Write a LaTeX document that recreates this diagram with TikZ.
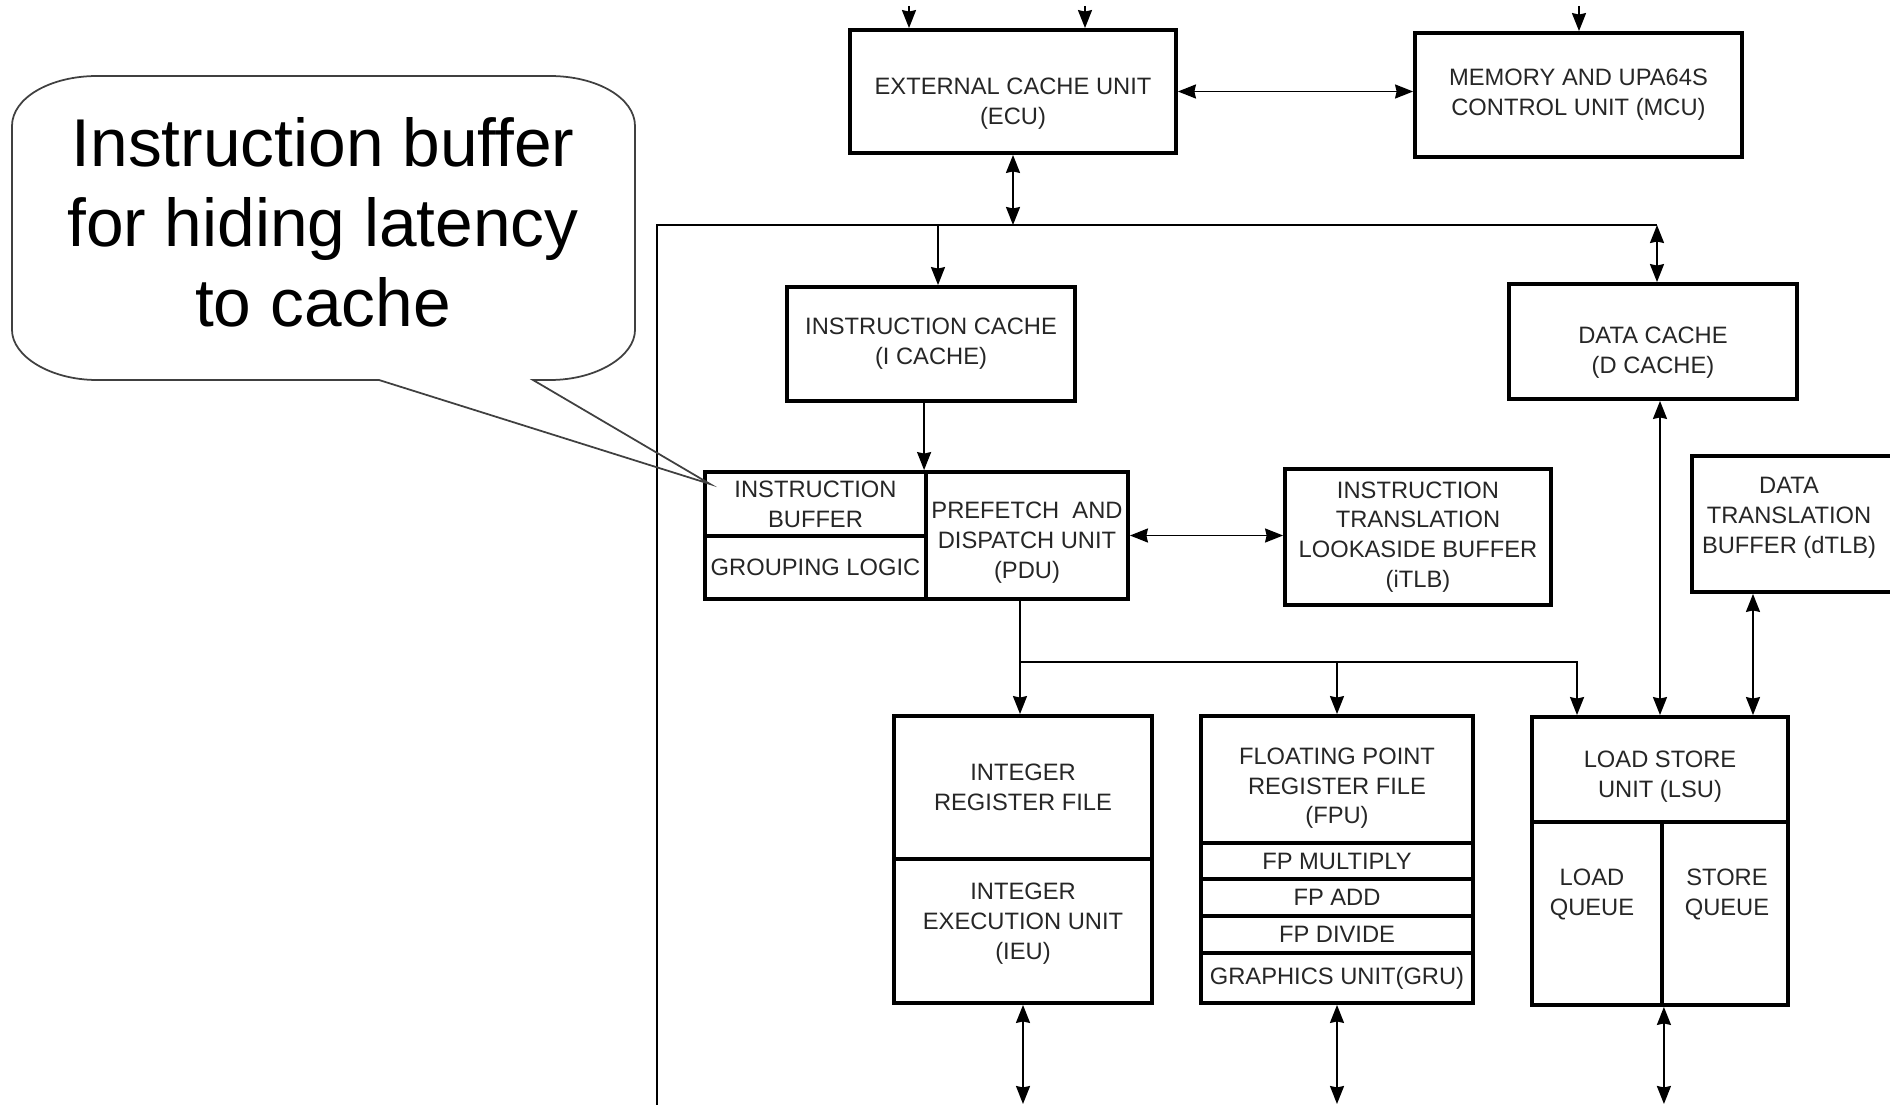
\documentclass[tikz,border=0pt]{standalone}
\usepackage{fontspec}
\setmainfont{Liberation Sans}
\usetikzlibrary{arrows.meta}

% extra room above the first line / below the last line of a box text
\newcommand\topgap[1]{\rule{0pt}{\dimexpr9.7pt+#1\relax}}
\newcommand\botgap[1]{\rule[-\dimexpr2.8pt+#1\relax]{0pt}{0pt}}

\tikzset{
  unit/.style={draw, line width=2.2pt, align=center, inner sep=0pt, text=black!85},
  tip/.tip={Stealth[length=3.6mm, width=2.8mm, inset=0.3mm]},
  link/.style={line width=1.1pt, -tip},
  link2/.style={line width=1.1pt, tip-tip},
  bus/.style={line width=1.1pt},
}

\begin{document}
\begin{tikzpicture}[x=0.02cm, y=-0.02cm, font=\fontsize{13.5}{17}\selectfont]
\useasboundingbox (0,0) rectangle (1890,1105);

% memory side
\node[unit, minimum width=6.52cm, minimum height=2.46cm] (ecu) at (1013,91.5) {\topgap{13.7pt}EXTERNAL CACHE UNIT\\(ECU)};
\node[unit, minimum width=6.54cm, minimum height=2.48cm] (mcu) at (1578.5,95) {MEMORY AND UPA64S\\CONTROL UNIT (MCU)};

% front end
\node[unit, minimum width=5.76cm, minimum height=2.28cm] (icache) at (931,344) {INSTRUCTION CACHE\\(I CACHE)};
\node[unit, minimum width=4.42cm, minimum height=1.28cm] (ib) at (815.5,504) {INSTRUCTION\\BUFFER};
\node[unit, minimum width=4.42cm, minimum height=1.26cm] (gl) at (815.5,567.5) {GROUPING LOGIC};
\node[unit, minimum width=4.04cm, minimum height=2.54cm] (pdu) at (1027,535.5) {\topgap{8.2pt}PREFETCH\ \ AND\\DISPATCH UNIT\\(PDU)};
\node[unit, minimum width=5.32cm, minimum height=2.72cm] (itlb) at (1418,537) {INSTRUCTION\\TRANSLATION\\LOOKASIDE BUFFER\\(iTLB)};

% data side
\node[unit, minimum width=5.76cm, minimum height=2.30cm] (dcache) at (1653,341.5) {\topgap{12.4pt}DATA CACHE\\(D CACHE)};
\node[unit, minimum width=5.16cm, minimum height=2.72cm] (dtlb) at (1821,524) {};
\node[align=center, inner sep=0pt, text=black!85] (dtlbtext) at (1789,518) {DATA\\TRANSLATION\\BUFFER (dTLB)};

% execution units
\node[unit, minimum width=5.16cm, minimum height=2.86cm] (irf) at (1023,787.5) {INTEGER\\REGISTER FILE};
\node[unit, minimum width=5.16cm, minimum height=2.88cm] (ieu) at (1023,931) {INTEGER\\EXECUTION UNIT\\(IEU)\botgap{8.2pt}};
\node[unit, minimum width=5.44cm, minimum height=2.54cm] (fpu) at (1337,779.5) {\topgap{9.6pt}FLOATING POINT\\REGISTER FILE\\(FPU)};
\node[unit, minimum width=5.44cm, minimum height=0.72cm] (fpmul) at (1337,861) {FP MULTIPLY};
\node[unit, minimum width=5.44cm, minimum height=0.74cm] (fpadd) at (1337,897.5) {FP ADD};
\node[unit, minimum width=5.44cm, minimum height=0.74cm] (fpdiv) at (1337,934.5) {FP DIVIDE};
\node[unit, minimum width=5.44cm, minimum height=1.00cm] (gru) at (1337,978) {GRAPHICS UNIT(GRU)};
\node[unit, minimum width=5.12cm, minimum height=2.10cm] (lsu) at (1660,769.5) {\topgap{8.2pt}LOAD STORE\\UNIT (LSU)};
\node[unit, minimum width=2.60cm, minimum height=3.66cm,
  label={[anchor=north, yshift=-0.98cm, xshift=-0.1cm, align=center, inner sep=0pt, text=black!85]north:LOAD\\QUEUE}] (lq) at (1597,913.5) {};
\node[unit, minimum width=2.52cm, minimum height=3.66cm,
  label={[anchor=north, yshift=-0.98cm, xshift=0.04cm, align=center, inner sep=0pt, text=black!85]north:STORE\\QUEUE}] (sq) at (1725,913.5) {};

% free ends
\coordinate (ecuin1) at (909,6);
\coordinate (ecuin2) at (1085,6);
\coordinate (mcuin) at (1579,6);
\coordinate (busl) at (657,1110);
\coordinate (busr) at (1657,225);
\coordinate (fork) at (1020,662);
\coordinate (bot) at (0,1104);

% connectors
\draw[link] (ecuin1) -- (ecuin1 |- ecu.north);
\draw[link] (ecuin2) -- (ecuin2 |- ecu.north);
\draw[link] (mcuin) -- (mcuin |- mcu.north);
\draw[link2] (ecu.east) -- (ecu.east -| mcu.west);
\draw[bus] (busl) |- (busr);
\draw[link2] (ecu.south) -- (ecu.south |- busr);
\draw[link2] (busr) -- (busr |- dcache.north);
\draw[link] ([xshift=0.14cm]icache.north |- busr) -- ([xshift=0.14cm]icache.north);
\draw[link] (icache.south -| pdu.north west) -- (pdu.north west);
\draw[link2] (pdu.east) -- (pdu.east -| itlb.west);
\draw[link] (pdu.south -| fork) -- (irf.north -| fork);
\draw[link] (fork) -| (fpu.north);
\draw[link] (fork) -| ([xshift=-1.66cm]lsu.north);
\draw[link2] (dcache.south -| lsu.north) -- (lsu.north);
\draw[link2] ([xshift=1.86cm]lsu.north |- dtlb.south) -- ([xshift=1.86cm]lsu.north);
\draw[link2] (ieu.south) -- (ieu.south |- bot);
\draw[link2] (gru.south) -- (gru.south |- bot);
\draw[link2] (lq.south east) -- (lq.south east |- bot);

% callout
\draw[line width=1pt, draw=black!75]
  (12,126) .. controls (12,98) and (50,76) .. (97,76) -- (550,76)
  .. controls (597,76) and (635,98) .. (635,126) -- (635,330)
  .. controls (635,356) and (597,380) .. (550,380) -- (533,380)
  -- (710,484) -- (379,380) -- (97,380)
  .. controls (50,380) and (12,356) .. (12,330) -- cycle;
\node[align=center, inner sep=0pt, font=\fontsize{38.5}{45.5}\selectfont] (note) at (323,222)
  {Instruction buffer\\for hiding latency\\to cache};

\end{tikzpicture}
\end{document}
